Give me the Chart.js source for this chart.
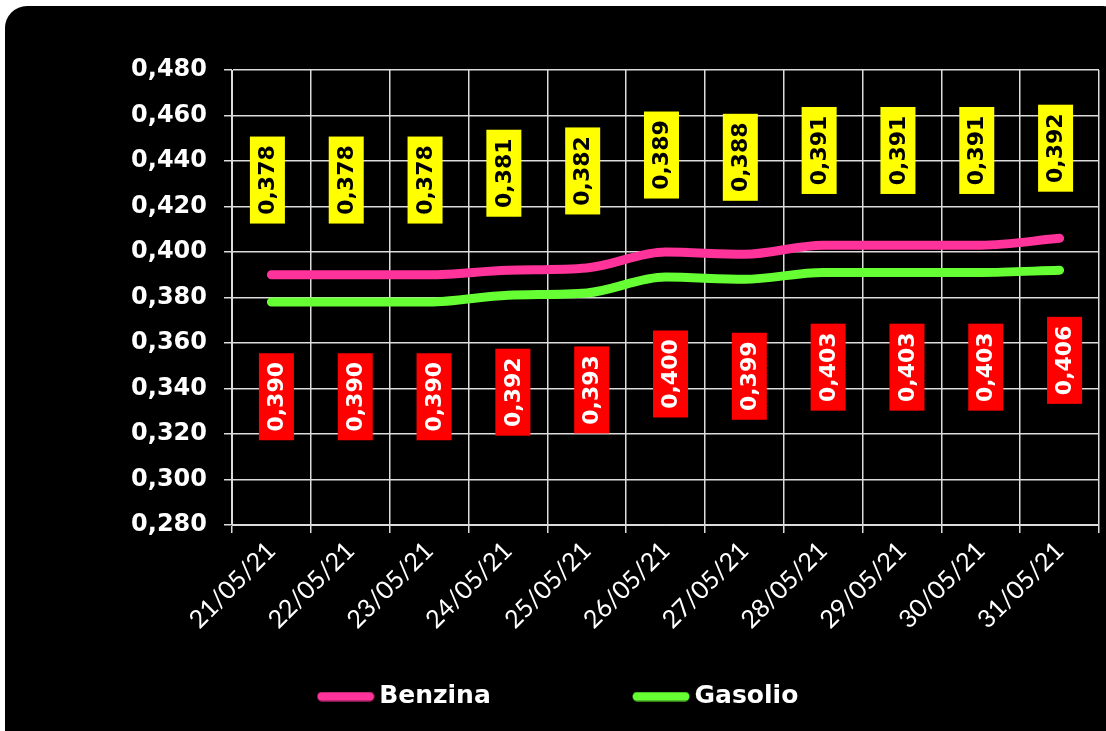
<!DOCTYPE html>
<html>
<head>
<meta charset="utf-8">
<script src="https://cdn.jsdelivr.net/npm/chart.js@4.4.1/dist/chart.umd.min.js"></script>
<style>
    html, body { margin: 0; padding: 0; background: #fff; overflow: hidden; }
    #frame {
        position: absolute; left: 5px; top: 6px; width: 1120px; height: 750px;
        background: #000; border-radius: 22px;
    }
    #chart { position: absolute; left: 0; top: 0; }
</style>
</head>
<body>
<div id="frame"></div>
<canvas id="chart" width="1106" height="731"></canvas>
<script>
const dates = ['21/05/21', '22/05/21', '23/05/21', '24/05/21', '25/05/21', '26/05/21',
               '27/05/21', '28/05/21', '29/05/21', '30/05/21', '31/05/21'];
const benzina = [0.390, 0.390, 0.390, 0.392, 0.393, 0.400, 0.399, 0.403, 0.403, 0.403, 0.406];
const gasolio = [0.378, 0.378, 0.378, 0.381, 0.382, 0.389, 0.388, 0.391, 0.391, 0.391, 0.392];

const PINK = '#ff3399';
const GREEN = '#66ff33';

const fmt = v => v.toFixed(3).replace('.', ',');

// short thick rounded line used as legend marker
function legendLine(color) {
    const c = document.createElement('canvas');
    c.width = 58;
    c.height = 10;
    const g = c.getContext('2d');
    g.strokeStyle = color;
    g.lineWidth = 9;
    g.lineCap = 'round';
    g.beginPath();
    g.moveTo(5, 5);
    g.lineTo(53, 5);
    g.stroke();
    return c;
}

// value boxes: gasolio in yellow above, benzina in red below
const boxLabels = {
    id: 'boxLabels',
    afterDatasetsDraw(chart) {
        const ctx = chart.ctx;
        const styles = [
            { fill: '#ff0000', text: '#ffffff', dy: 122, dx: 5 },
            { fill: '#ffff00', text: '#000000', dy: -122, dx: -4 }
        ];
        chart.data.datasets.forEach((ds, di) => {
            const s = styles[di];
            chart.getDatasetMeta(di).data.forEach((pt, i) => {
                const cx = pt.x + s.dx, cy = pt.y + s.dy;
                ctx.save();
                ctx.fillStyle = s.fill;
                ctx.fillRect(cx - 17.5, cy - 43.5, 35, 87);
                ctx.translate(cx, cy);
                ctx.rotate(-Math.PI / 2);
                ctx.fillStyle = s.text;
                ctx.font = 'bold 22px "DejaVu Sans"';
                ctx.textAlign = 'center';
                ctx.textBaseline = 'middle';
                ctx.fillText(fmt(ds.data[i]), 0, 1);
                ctx.restore();
            });
        });
    }
};

new Chart(document.getElementById('chart'), {
    type: 'line',
    data: {
        labels: dates,
        datasets: [{
            label: 'Benzina',
            data: benzina,
            borderColor: PINK,
            backgroundColor: PINK,
            borderWidth: 9,
            borderCapStyle: 'round',
            pointRadius: 0,
            cubicInterpolationMode: 'monotone'
        }, {
            label: 'Gasolio',
            data: gasolio,
            borderColor: GREEN,
            backgroundColor: GREEN,
            borderWidth: 9,
            borderCapStyle: 'round',
            pointRadius: 0,
            cubicInterpolationMode: 'monotone'
        }]
    },
    options: {
        responsive: false,
        animation: false,
        layout: { padding: { top: 70, right: 7, bottom: 12, left: 24 } },
        plugins: {
            legend: {
                position: 'bottom',
                labels: {
                    color: '#fff',
                    font: { family: 'DejaVu Sans', size: 25, weight: 'bold' },
                    usePointStyle: true,
                    pointStyleWidth: 42,
                    boxHeight: 10,
                    padding: 10,
                    generateLabels(chart) {
                        const items = Chart.defaults.plugins.legend.labels.generateLabels(chart);
                        items[0].text = 'Benzina' + '\u00a0'.repeat(16);
                        items[0].pointStyle = legendLine(PINK);
                        items[1].pointStyle = legendLine(GREEN);
                        return items;
                    }
                }
            },
            tooltip: { enabled: false }
        },
        scales: {
            x: {
                offset: true,
                grid: { offset: true, color: '#dcdcdc', lineWidth: 1.5, tickLength: 8 },
                border: { color: '#dcdcdc' },
                ticks: {
                    color: '#fff',
                    font: { family: 'Lato', size: 25 },
                    minRotation: 45,
                    maxRotation: 45,
                    autoSkip: false
                },
                afterFit(scale) { scale.height = 149; }
            },
            y: {
                min: 0.28,
                max: 0.48,
                grid: { color: '#dcdcdc', lineWidth: 1.5, tickLength: 8 },
                border: { color: '#dcdcdc' },
                ticks: {
                    stepSize: 0.02,
                    color: '#fff',
                    padding: 17,
                    font: { family: 'DejaVu Sans', size: 24, weight: 'bold' },
                    callback: v => fmt(v)
                },
                afterFit(scale) { scale.width = 208; }
            }
        }
    },
    plugins: [boxLabels]
});
</script>
</body>
</html>
